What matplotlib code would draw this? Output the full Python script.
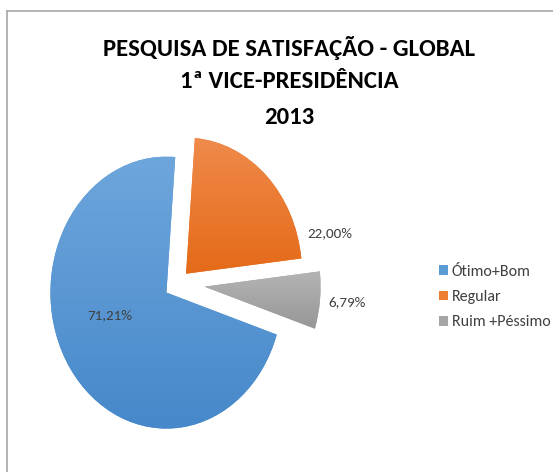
import numpy as np
import matplotlib
matplotlib.use('Agg')
import matplotlib.pyplot as plt
from matplotlib.colors import LinearSegmentedColormap
from matplotlib.patches import Shadow

# data
categorias = ['Ótimo+Bom', 'Regular', 'Ruim +Péssimo']
valores = [71.21, 22.00, 6.79]
rotulos = ['71,21%', '22,00%', '6,79%']
cores_topo = ['#6ea6dc', '#f08a4b', '#b4b4b4']
cores_base = ['#4688ca', '#e46a18', '#979797']
cores = ['#5b9bd5', '#ed7d31', '#a5a5a5']
explode = [0.12, 0.10, 0.23]

plt.rcParams['font.family'] = ['Carlito', 'DejaVu Sans']

W, H = 553, 472
fig = plt.figure(figsize=(W / 100, H / 100), dpi=100)
rend = fig.canvas.get_renderer()


def ajusta(t, largura):
    # scale the font so the text is as wide as in the picture
    bb = t.get_window_extent(rend)
    t.set_fontsize(t.get_fontsize() * largura / bb.width)


# frame lines of the chart area
fig.add_artist(plt.Line2D([6.5 / W, 6.5 / W], [0, 1 - 10.5 / H], color='#a6a6a6', lw=1.2))
fig.add_artist(plt.Line2D([6.5 / W, 1], [1 - 10.5 / H, 1 - 10.5 / H], color='#a6a6a6', lw=1.2))

# pie axes: centre at px (178, 283.5), radius 116 px wide, 136 px tall
cx, cy, rx, ry = 178, 283.5, 116, 136
ax = fig.add_axes([(cx - 1.5 * rx) / W, (H - cy - 1.5 * ry) / H, 3 * rx / W, 3 * ry / H])
wedges, _ = ax.pie(valores, colors=cores, explode=explode, startangle=-18,
                   counterclock=False, normalize=True)
ax.set_aspect('auto')
ax.axis('off')

for w, c1, c2 in zip(wedges, cores_topo, cores_base):
    sh = Shadow(w, 1.2, -1.8, shade=0.5, alpha=0.25)
    sh.set_zorder(0.5)
    ax.add_patch(sh)
    w.set_zorder(1)
    cmap = LinearSegmentedColormap.from_list('g', [c2, c1])
    grad = np.linspace(0, 1, 256).reshape(-1, 1)
    ext = w.get_path().get_extents()
    im = ax.imshow(grad, cmap=cmap, extent=[ext.x0, ext.x1, ext.y0, ext.y1],
                   origin='lower', aspect='auto', zorder=2)
    im.set_clip_path(w)
ax.set_xlim(-1.5, 1.5)
ax.set_ylim(-1.5, 1.5)

# data labels
pos_rotulos = [(-0.59, -0.235), (1.306, 0.368), (1.461, -0.14)]
txts = []
for (x, y), t in zip(pos_rotulos, rotulos):
    txts.append(ax.text(x, y, t, ha='center', va='center', fontsize=10, color='#404040', zorder=5))
ajusta(txts[1], 45)
for t in txts:
    t.set_fontsize(txts[1].get_fontsize())

# title
linhas = ['PESQUISA DE SATISFAÇÃO - GLOBAL', '1ª VICE-PRESIDÊNCIA', '2013']
y_linhas = [48, 82, 117]
t0 = fig.text(289 / W, 1 - y_linhas[0] / H, linhas[0], ha='center', va='center',
              fontsize=20, fontweight='bold', color='#000000')
ajusta(t0, 372)
for s, y in zip(linhas[1:], y_linhas[1:]):
    fig.text(289 / W, 1 - y / H, s, ha='center', va='center',
             fontsize=t0.get_fontsize(), fontweight='bold', color='#000000')

# legend
leg = fig.legend(wedges, categorias, loc='center left', bbox_to_anchor=(439 / W, 1 - 297 / H),
                 frameon=False, fontsize=11.5, handlelength=0.55, handleheight=0.55,
                 handletextpad=0.25, labelspacing=0.72, borderaxespad=0, borderpad=0)
for t in leg.get_texts():
    t.set_color('#404040')

fig.savefig('out.png', dpi=100)
